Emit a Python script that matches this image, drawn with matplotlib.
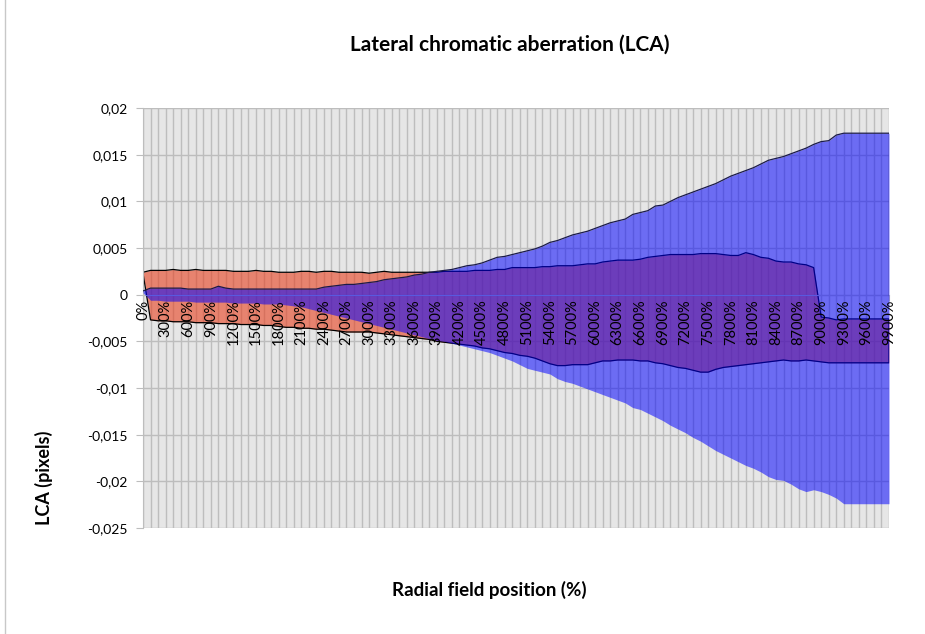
import matplotlib
matplotlib.use('Agg')
import matplotlib.pyplot as plt
import matplotlib.transforms as mtransforms
import numpy as np

# radial positions (categories), 0% .. 9900% in steps of 100%
positions = list(range(0, 10000, 100))

red_max = [0.0024, 0.0026, 0.0026, 0.0026, 0.0027, 0.0026, 0.0026, 0.0027, 0.0026, 0.0026,
           0.0026, 0.0026, 0.0025, 0.0025, 0.0025, 0.0026, 0.0025, 0.0025, 0.0024, 0.0024,
           0.0024, 0.0025, 0.0025, 0.0024, 0.0025, 0.0025, 0.0024, 0.0024, 0.0024, 0.0024,
           0.0023, 0.0024, 0.0025, 0.0024, 0.0024, 0.0024, 0.0024, 0.0024, 0.0024, 0.0024,
           0.0025, 0.0025, 0.0025, 0.0025, 0.0026, 0.0026, 0.0026, 0.0027, 0.0027, 0.0029,
           0.0029, 0.0029, 0.0029, 0.0030, 0.0030, 0.0031, 0.0031, 0.0031, 0.0032, 0.0033,
           0.0033, 0.0035, 0.0036, 0.0037, 0.0037, 0.0037, 0.0038, 0.0040, 0.0041, 0.0042,
           0.0043, 0.0043, 0.0043, 0.0043, 0.0044, 0.0044, 0.0044, 0.0043, 0.0042, 0.0042,
           0.0045, 0.0043, 0.0040, 0.0039, 0.0036, 0.0035, 0.0035, 0.0033, 0.0032, 0.0029,
           -0.0024, -0.0025, -0.0027, -0.0026, -0.0026, -0.0026, -0.0026, -0.0026, -0.0026, -0.0026]

red_min = [0.0023, -0.0027, -0.0028, -0.0028, -0.0029, -0.0029, -0.0029, -0.0030, -0.0030, -0.0030,
           -0.0031, -0.0031, -0.0031, -0.0032, -0.0032, -0.0032, -0.0033, -0.0033, -0.0034, -0.0035,
           -0.0035, -0.0036, -0.0036, -0.0037, -0.0037, -0.0038, -0.0039, -0.0040, -0.0040, -0.0040,
           -0.0040, -0.0041, -0.0042, -0.0043, -0.0044, -0.0045, -0.0046, -0.0047, -0.0048, -0.0050,
           -0.0051, -0.0052, -0.0053, -0.0054, -0.0055, -0.0057, -0.0058, -0.0060, -0.0062, -0.0063,
           -0.0065, -0.0066, -0.0068, -0.0071, -0.0074, -0.0076, -0.0076, -0.0075, -0.0075, -0.0075,
           -0.0073, -0.0071, -0.0071, -0.0070, -0.0070, -0.0070, -0.0071, -0.0071, -0.0073, -0.0074,
           -0.0076, -0.0078, -0.0079, -0.0081, -0.0083, -0.0083, -0.0080, -0.0078, -0.0077, -0.0076,
           -0.0075, -0.0074, -0.0073, -0.0072, -0.0071, -0.0070, -0.0071, -0.0071, -0.0070, -0.0071,
           -0.0072, -0.0073, -0.0073, -0.0073, -0.0073, -0.0073, -0.0073, -0.0073, -0.0073, -0.0073]

blue_max = [0.0004, 0.0007, 0.0007, 0.0007, 0.0007, 0.0007, 0.0006, 0.0006, 0.0006, 0.0006,
            0.0009, 0.0007, 0.0006, 0.0006, 0.0006, 0.0006, 0.0006, 0.0006, 0.0006, 0.0006,
            0.0006, 0.0006, 0.0006, 0.0006, 0.0008, 0.0009, 0.0010, 0.0011, 0.0011, 0.0012,
            0.0013, 0.0014, 0.0016, 0.0017, 0.0018, 0.0019, 0.0021, 0.0022, 0.0024, 0.0025,
            0.0026, 0.0027, 0.0029, 0.0031, 0.0032, 0.0034, 0.0037, 0.0040, 0.0041, 0.0043,
            0.0045, 0.0047, 0.0049, 0.0052, 0.0056, 0.0058, 0.0061, 0.0064, 0.0066, 0.0068,
            0.0071, 0.0074, 0.0077, 0.0079, 0.0081, 0.0086, 0.0088, 0.0090, 0.0095, 0.0096,
            0.0100, 0.0104, 0.0107, 0.0110, 0.0113, 0.0116, 0.0119, 0.0123, 0.0127, 0.0130,
            0.0133, 0.0136, 0.0140, 0.0144, 0.0146, 0.0148, 0.0151, 0.0154, 0.0157, 0.0161,
            0.0164, 0.0165, 0.0171, 0.0173, 0.0173, 0.0173, 0.0173, 0.0173, 0.0173, 0.0173]

blue_min = [0.0002, -0.0006, -0.0006, -0.0007, -0.0007, -0.0007, -0.0007, -0.0008, -0.0008, -0.0008,
            -0.0008, -0.0008, -0.0009, -0.0009, -0.0009, -0.0009, -0.0010, -0.0010, -0.0010, -0.0011,
            -0.0012, -0.0013, -0.0015, -0.0017, -0.0019, -0.0021, -0.0023, -0.0025, -0.0027, -0.0029,
            -0.0031, -0.0033, -0.0035, -0.0037, -0.0039, -0.0041, -0.0043, -0.0045, -0.0047, -0.0049,
            -0.0050, -0.0052, -0.0054, -0.0056, -0.0058, -0.0060, -0.0062, -0.0065, -0.0068, -0.0071,
            -0.0075, -0.0079, -0.0081, -0.0083, -0.0085, -0.0090, -0.0093, -0.0095, -0.0098, -0.0101,
            -0.0104, -0.0107, -0.0110, -0.0113, -0.0116, -0.0121, -0.0123, -0.0127, -0.0131, -0.0135,
            -0.0140, -0.0144, -0.0148, -0.0153, -0.0157, -0.0162, -0.0167, -0.0171, -0.0175, -0.0179,
            -0.0183, -0.0186, -0.0190, -0.0195, -0.0198, -0.0199, -0.0203, -0.0208, -0.0211, -0.0209,
            -0.0211, -0.0214, -0.0218, -0.0224, -0.0224, -0.0224, -0.0224, -0.0224, -0.0224, -0.0224]

yticks = [0.02, 0.015, 0.01, 0.005, 0, -0.005, -0.01, -0.015, -0.02, -0.025]
ytick_labels = ['0,02', '0,015', '0,01', '0,005', '0', '-0,005', '-0,01', '-0,015', '-0,02', '-0,025']

plt.rcParams['font.family'] = ['Lato', 'DejaVu Sans']

fig = plt.figure(figsize=(9.25, 6.34), dpi=100)
ax = fig.add_axes([143 / 925, 1 - 528 / 634, (889 - 143) / 925, (528 - 108) / 634])
ax.set_facecolor('#e6e6e6')

# axis crosses at zero
ax.spines['bottom'].set_position(('data', 0))
ax.spines['bottom'].set_color('#bdbdbd')
ax.spines['left'].set_color('#bdbdbd')
ax.spines['top'].set_visible(False)
ax.spines['right'].set_visible(False)

x = np.arange(len(positions))

# red band, then blue band on top (both see-through)
ax.fill_between(x, red_min, red_max, color=(232 / 255, 65 / 255, 32 / 255), alpha=0.6, lw=0, zorder=2)
rx = np.concatenate([x, x[::-1], x[:1]])
ry = np.concatenate([red_max, red_min[::-1], red_max[:1]])
ax.plot(rx, ry, color='black', lw=0.9, zorder=2)

ax.fill_between(x, blue_min, blue_max, color=(0, 0, 1), alpha=0.53, lw=0, zorder=3)
ax.plot(x, blue_max, color='#1a1a4a', lw=0.9, zorder=4)
ax.plot([x[-1], x[-1]], [blue_max[-1], 0], color='#1a1a4a', lw=0.9, zorder=4)

ax.set_xlim(0, len(positions) - 1)
ax.set_ylim(-0.025, 0.02)
ax.set_yticks(yticks)
ax.set_yticklabels(ytick_labels, fontsize=10)

ax.set_xticks(x)
ax.set_xticklabels([])
ax.tick_params(axis='x', length=4, color='#bdbdbd')
ax.tick_params(axis='y', length=5, color='#bdbdbd', pad=6)

ax.grid(True, color='#bdbdbd', lw=1, zorder=0)
ax.set_axisbelow(True)

# category labels sit on top of the areas, just under the zero line
lbl_trans = mtransforms.offset_copy(ax.transData, fig=fig, x=0, y=-5, units='dots')
for i, p in enumerate(positions):
    if i % 3 == 0:
        ax.text(i, 0, f'{p}%', transform=lbl_trans, rotation=90, ha='center', va='top',
                fontsize=10.5, color='black', zorder=10, clip_on=False)

fig.text(510 / 925, 1 - 45 / 634, 'Lateral chromatic aberration (LCA)', ha='center', va='center',
         fontsize=15, fontweight='bold')
fig.text(489 / 925, 1 - 590 / 634, 'Radial field position (%)', ha='center', va='center',
         fontsize=13.5, fontweight='bold')
fig.text(44 / 925, 1 - 478 / 634, 'LCA (pixels)', ha='center', va='center', rotation=90,
         fontsize=13, fontweight='bold')

fig.add_artist(plt.Line2D([5 / 925, 5 / 925], [0, 1], color='#c8c8c8', lw=1))

fig.savefig('out.png', dpi=100)
